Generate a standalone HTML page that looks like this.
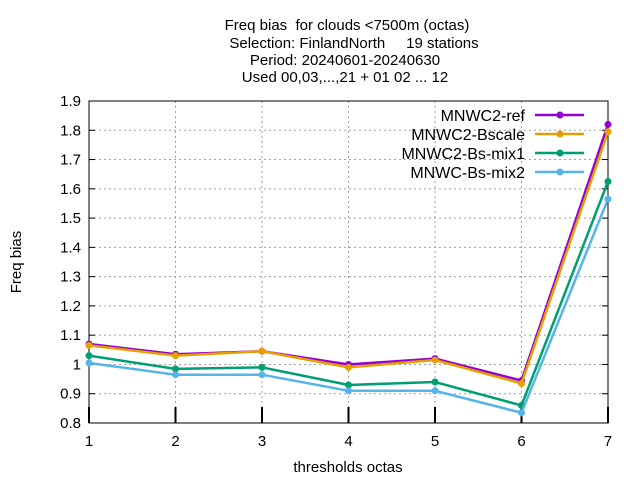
<!DOCTYPE html>
<html><head><meta charset="utf-8"><style>
body{margin:0;background:#fff;}
svg{font-family:"Liberation Sans",sans-serif;}
svg text{white-space:pre;}
</style></head><body>
<svg id="c" width="640" height="480">
<g font-size="15" text-anchor="middle">
<text x="347" y="30">Freq bias  for clouds &lt;7500m (octas)</text>
<text x="354" y="48">Selection: FinlandNorth     19 stations</text>
<text x="345" y="65">Period: 20240601-20240630</text>
<text x="345" y="82">Used 00,03,...,21 + 01 02 ... 12</text>
</g>
<text x="21" y="262" font-size="15" text-anchor="middle" transform="rotate(-90 21 262)">Freq bias</text>
<text x="348" y="472" font-size="15" text-anchor="middle">thresholds octas</text>
<g id="grid"></g><g id="axes"></g><g id="series"></g><g id="legend"></g>
</svg>
<script>
const categories=[1,2,3,4,5,6,7];
const yTicks=[0.8,0.9,1,1.1,1.2,1.3,1.4,1.5,1.6,1.7,1.8,1.9];
const seriesNames=["MNWC2-ref","MNWC2-Bscale","MNWC2-Bs-mix1","MNWC-Bs-mix2"];
const seriesColors=["#9400d3","#e69f00","#009e73","#56b4e9"];
const refVals=[1.07,1.035,1.045,1.0,1.02,0.945,1.82];
const bscaleVals=[1.065,1.03,1.045,0.99,1.015,0.935,1.795];
const mix1Vals=[1.03,0.985,0.99,0.93,0.94,0.86,1.625];
const mix2Vals=[1.005,0.965,0.965,0.91,0.91,0.835,1.565];
const L=89,R=608,T=101,B=423;
const xs=v=>L+(v-1)/6*(R-L);
const ys=v=>B-(v-0.8)/1.1*(B-T);
const NS="http://www.w3.org/2000/svg";
function mk(p,t,a){const e=document.createElementNS(NS,t);for(const k in a)e.setAttribute(k,a[k]);p.appendChild(e);return e;}
const grid=document.getElementById('grid'),axes=document.getElementById('axes');
yTicks.forEach(v=>{const y=ys(v);
 if(v>0.8&&v<1.9){const g=mk(grid,'line',{x1:L,x2:R,y1:y,y2:y,stroke:'#a0a0a0','stroke-dasharray':'2,3'});
 
 }
 mk(axes,'line',{x1:L,x2:L+6,y1:y,y2:y,stroke:'#000'});
 mk(axes,'line',{x1:R,x2:R-6,y1:y,y2:y,stroke:'#000'});
 const t=mk(axes,'text',{x:L-8,y:y+5,'font-size':15,'text-anchor':'end'});t.textContent=String(v);
 
 
});
categories.forEach(c=>{const x=xs(c);
 if(c>1&&c<7){const g=mk(grid,'line',{x1:x,x2:x,y1:T,y2:B,stroke:'#a0a0a0','stroke-dasharray':'2,3'});
 
 }
 mk(axes,'line',{x1:x,x2:x,y1:B,y2:B-16,stroke:'#000','stroke-width':2});
 const t=mk(axes,'text',{x:x,y:B+23,'font-size':15,'text-anchor':'middle'});t.textContent=String(c);
 
 
});
const box=mk(axes,'rect',{x:L,y:T,width:R-L,height:B-T,fill:'none',stroke:'#000'});


const allVals=[refVals,bscaleVals,mix1Vals,mix2Vals];
const sg=document.getElementById('series'),lg=document.getElementById('legend');
allVals.forEach((vals,i)=>{
 const col=seriesColors[i];
 const pl=mk(sg,'polyline',{points:vals.map((v,j)=>xs(categories[j])+','+ys(v)).join(' '),fill:'none',stroke:col,'stroke-width':2.5});
 
 
 vals.forEach((v,j)=>{const p=mk(sg,'circle',{cx:xs(categories[j]),cy:ys(v),r:3.5,fill:col});
  
  });
 const ly=115+i*19;
 const t=mk(lg,'text',{x:525,y:ly+6,'font-size':16,'text-anchor':'end'});t.textContent=seriesNames[i];
 
 
 mk(lg,'line',{x1:535,x2:584,y1:ly,y2:ly,stroke:col,'stroke-width':2.5});
 mk(lg,'circle',{cx:560,cy:ly,r:3.5,fill:col});
});
</script>
</body></html>
